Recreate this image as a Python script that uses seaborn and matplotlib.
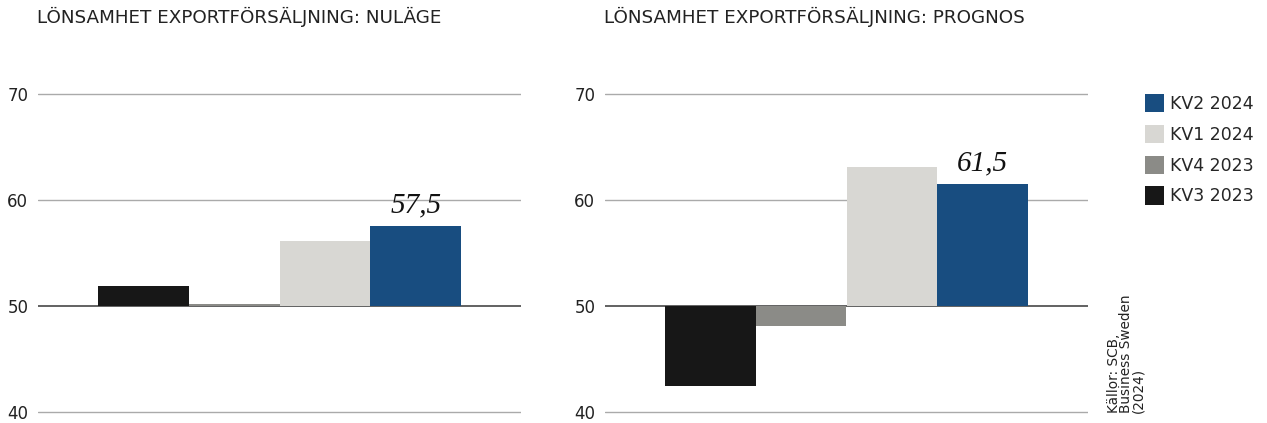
import matplotlib
matplotlib.use("Agg")
import matplotlib.pyplot as plt
import seaborn as sns
import pandas as pd
from matplotlib.patches import Patch

# ---- data ----
periods = ["KV3 2023", "KV4 2023", "KV1 2024", "KV2 2024"]
nulage = [51.9, 50.2, 56.1, 57.5]
prognos = [42.5, 48.1, 63.1, 61.5]
titles = ["LÖNSAMHET EXPORTFÖRSÄLJNING: NULÄGE", "LÖNSAMHET EXPORTFÖRSÄLJNING: PROGNOS"]
yticks = [40, 50, 60, 70]
legend_order = ["KV2 2024", "KV1 2024", "KV4 2023", "KV3 2023"]
source = "Källor: SCB,\nBusiness Sweden\n(2024)"
base = 50

colors = {"KV3 2023": "#171717", "KV4 2023": "#8b8b87",
          "KV1 2024": "#d8d7d3", "KV2 2024": "#184d80"}

sns.set_theme(style="white")
plt.rcParams["font.family"] = ["DejaVu Sans"]

W, H = 1267, 423
fig = plt.figure(figsize=(W / 100, H / 100), dpi=100)

def px_axes(x0, x1, ytop, ybot):
    return fig.add_axes([x0 / W, 1 - ybot / H, (x1 - x0) / W, (ybot - ytop) / H])

ax_left = px_axes(38, 521, 90.8, 415.2)
ax_right = px_axes(605, 1088, 90.8, 415.2)

for ax, vals, title, title_x in [(ax_left, nulage, titles[0], 37),
                                 (ax_right, prognos, titles[1], 604)]:
    df = pd.DataFrame({"period": periods, "rel": [v - base for v in vals]})
    sns.barplot(data=df, x="period", y="rel", hue="period", order=periods,
                hue_order=periods, palette=colors, dodge=False, width=1.0,
                legend=False, saturation=1, linewidth=0, ax=ax, zorder=2)
    ax.set_xlim(-1.16, 4.16)
    ax.set_ylim(-10.3, 20.3)
    ax.set_yticks([t - base for t in yticks])
    ax.set_yticklabels([str(t) for t in yticks], fontsize=12, color="#222222")
    ax.tick_params(axis="y", length=0, pad=7)
    ax.set_xticks([])
    ax.set_xlabel("")
    ax.set_ylabel("")
    for s in ax.spines.values():
        s.set_visible(False)
    for t in yticks:
        if t == base:
            ax.axhline(t - base, color="#555555", lw=1.3, zorder=1.5)
        else:
            ax.axhline(t - base, color="#aaaaaa", lw=1.0, zorder=1)
    # value label for latest period
    last = vals[-1]
    ax.text(3, last - base + 2.0, f"{last:.1f}".replace(".", ","),
            ha="center", va="center", fontsize=21, style="italic",
            family="Liberation Serif", color="#111111")
    fig.text(title_x / W, 1 - 17 / H, title, ha="left", va="center",
             fontsize=13.2, color="#222222")

# legend
handles = [Patch(facecolor=colors[p], edgecolor="none") for p in legend_order]
fig.legend(handles, legend_order, loc="upper left", bbox_to_anchor=(1145 / W, 1 - 94 / H),
           frameon=False, fontsize=12.5, handlelength=1.1, handleheight=1.25,
           handletextpad=0.35, labelspacing=0.68, borderaxespad=0, borderpad=0)

fig.text(1126 / W, 1 - 413 / H, source, rotation=90, ha="center", va="bottom",
         fontsize=9.8, color="#222222", linespacing=0.85, multialignment="left")

fig.savefig("out.png", dpi=100)
